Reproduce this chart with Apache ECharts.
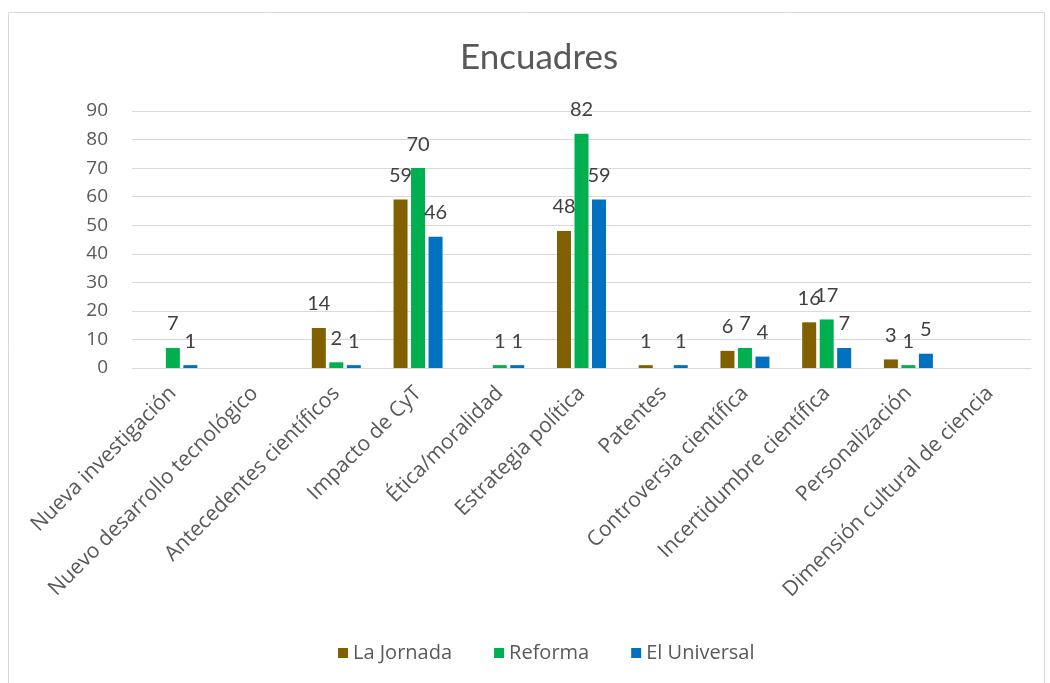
<!DOCTYPE html>
<html>
<head>
<meta charset="utf-8">
<script src="https://cdn.jsdelivr.net/npm/echarts@6/dist/echarts.min.js"></script>
<style>
  html, body { margin: 0; padding: 0; background: #ffffff; }
  #chart { width: 1050px; height: 683px; }
</style>
</head>
<body>
<div id="chart"></div>
<script>
// Framing categories
const categories = [
  'Nueva investigación',
  'Nuevo desarrollo tecnológico',
  'Antecedentes científicos',
  'Impacto de CyT',
  'Ética/moralidad',
  'Estrategia política',
  'Patentes',
  'Controversia científica',
  'Incertidumbre científica',
  'Personalización',
  'Dimensión cultural de ciencia'
];

// Counts per newspaper
const laJornada   = [0, 0, 14, 59, 0, 48, 1, 6, 16, 3, 0];
const reforma     = [7, 0, 2, 70, 1, 82, 0, 7, 17, 1, 0];
const elUniversal = [1, 0, 1, 46, 1, 59, 1, 4, 7, 5, 0];

const yTicks = [0, 10, 20, 30, 40, 50, 60, 70, 80, 90];

const LATO = 'Lato, "Open Sans", sans-serif';
const OPEN = '"Open Sans", Lato, sans-serif';
const TEXT = '#595959';

function barSeries(name, values, color) {
  return {
    name: name,
    type: 'bar',
    data: values,
    barWidth: 14,
    barGap: '25%',
    itemStyle: { color: color },
    label: {
      show: true,
      position: 'top',
      distance: 14,
      color: '#404040',
      fontFamily: LATO,
      fontSize: 20,
      formatter: p => (p.value === 0 ? '' : String(p.value))
    }
  };
}

const chart = echarts.init(document.getElementById('chart'), null, { renderer: 'canvas' });

chart.setOption({
  backgroundColor: '#ffffff',
  animation: false,
  graphic: [{
    type: 'rect',
    shape: { x: 8.5, y: 12.5, width: 1036, height: 690 },
    style: { fill: 'none', stroke: '#d9d9d9', lineWidth: 1 },
    silent: true
  }],
  title: {
    text: 'Encuadres',
    left: 455,
    top: 35,
    textStyle: { fontFamily: LATO, fontSize: 35, fontWeight: 'normal', color: TEXT }
  },
  legend: {
    bottom: 15,
    left: 333,
    itemWidth: 10,
    itemHeight: 10,
    itemGap: 42,
    icon: 'rect',
    textStyle: { fontFamily: OPEN, fontSize: 20, color: TEXT },
    data: ['La Jornada', 'Reforma', 'El Universal']
  },
  grid: { left: 132, right: 19, top: 111, bottom: 315, containLabel: false },
  xAxis: {
    type: 'category',
    data: categories,
    axisLine: { show: true, lineStyle: { color: '#d9d9d9' } },
    axisTick: { show: false },
    axisLabel: {
      interval: 0,
      rotate: 45,
      margin: 22,
      fontFamily: OPEN,
      fontSize: 21,
      color: TEXT
    }
  },
  yAxis: {
    type: 'value',
    min: yTicks[0],
    max: yTicks[yTicks.length - 1],
    interval: 10,
    axisLine: { show: false },
    axisTick: { show: false },
    axisLabel: { fontFamily: OPEN, fontSize: 19, color: TEXT, margin: 24 },
    splitLine: { lineStyle: { color: '#d9d9d9', width: 1 } }
  },
  series: [
    barSeries('La Jornada', laJornada, '#806000'),
    barSeries('Reforma', reforma, '#00b050'),
    barSeries('El Universal', elUniversal, '#0070c0')
  ]
});
</script>
</body>
</html>
